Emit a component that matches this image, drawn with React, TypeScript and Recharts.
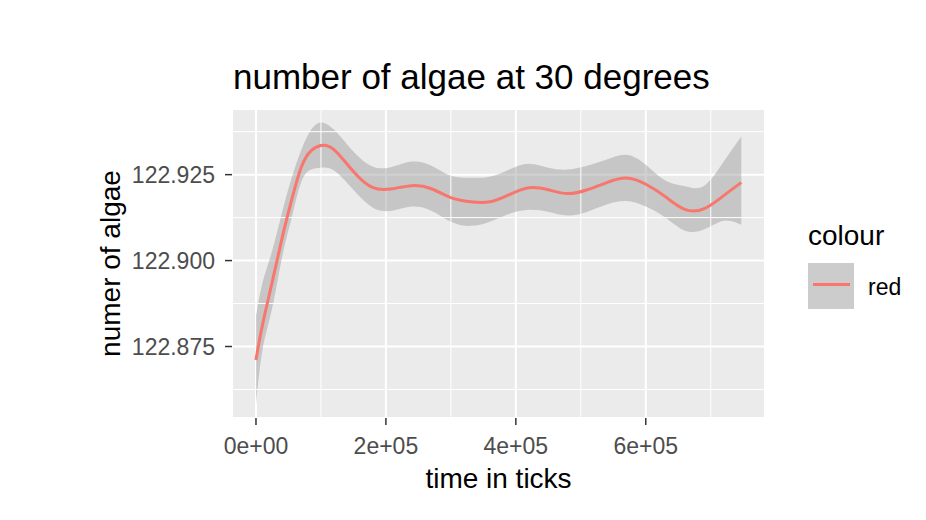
import React from 'react';
import { ComposedChart, Area, Line, XAxis, YAxis, CartesianGrid, ReferenceLine, Label } from 'recharts';

// time in ticks
const times = [
    0, 10000, 25000, 40000, 55000, 70000, 85000, 100000, 120000, 150000,
    180000, 210000, 240000, 270000, 300000, 330000, 360000, 390000, 420000, 450000,
    480000, 510000, 540000, 570000, 600000, 630000, 660000, 690000, 720000, 747000,
];

// smoothed number of algae
const fitted = [
    122.8711, 122.8813, 122.8938, 122.9064, 122.9177, 122.9273, 122.9320, 122.9335, 122.9323, 122.9259,
    122.9212, 122.9209, 122.9218, 122.9209, 122.9183, 122.9171, 122.9171, 122.9192, 122.9212, 122.9206,
    122.9195, 122.9206, 122.9227, 122.9240, 122.9222, 122.9186, 122.9149, 122.9151, 122.9189, 122.9227,
];

// confidence band
const lower = [
    122.8580, 122.8740, 122.8862, 122.9008, 122.9125, 122.9230, 122.9265, 122.9270, 122.9262, 122.9206,
    122.9154, 122.9145, 122.9157, 122.9145, 122.9113, 122.9101, 122.9113, 122.9136, 122.9148, 122.9142,
    122.9131, 122.9142, 122.9163, 122.9173, 122.9157, 122.9125, 122.9087, 122.9091, 122.9116, 122.9104,
];
const upper = [
    122.8839, 122.8935, 122.9029, 122.9139, 122.9241, 122.9323, 122.9381, 122.9402, 122.9381, 122.9317,
    122.9273, 122.9273, 122.9288, 122.9276, 122.9247, 122.9241, 122.9244, 122.9265, 122.9282, 122.9270,
    122.9265, 122.9276, 122.9294, 122.9308, 122.9279, 122.9233, 122.9216, 122.9218, 122.9288, 122.9361,
];

const xTicks = [0, 200000, 400000, 600000];
const xMinor = [100000, 300000, 500000, 700000];
const yTicks = [122.875, 122.9, 122.925];
const yMinor = [122.8625, 122.8875, 122.9125, 122.9375];

const LINE_COLOR = '#F8766D';
const FONT = '"Liberation Sans", Arial, sans-serif';

const data = times.map((t, i) => ({ t, fit: fitted[i], band: [lower[i], upper[i]] }));

const sci = (v: number) => {
    if (v === 0) return '0e+00';
    const [m, e] = v.toExponential().split('e');
    const n = Number(e);
    return `${m}e${n < 0 ? '-' : '+'}${String(Math.abs(n)).padStart(2, '0')}`;
};

const YTitle = (props: any) => {
    const vb = props.viewBox;
    const x = vb.x + 120;
    const y = vb.y + vb.height / 2;
    return (
        <text x={x} y={y} transform={`rotate(-90, ${x}, ${y})`} textAnchor="middle" fontSize={28} fill="#000000">
            numer of algae
        </text>
    );
};

const XTitle = (props: any) => {
    const vb = props.viewBox;
    const x = vb.x + vb.width / 2;
    return (
        <text x={x} y={488} textAnchor="middle" fontSize={28} fill="#000000">
            time in ticks
        </text>
    );
};

const App: React.FC = () => {
    return (
        <div style={{ position: 'absolute', left: 0, top: 0, width: 926, height: 520, background: '#ffffff', fontFamily: FONT }}>
            <div style={{ position: 'absolute', left: 233, top: 59, fontSize: 35, lineHeight: '35px', color: '#000000', whiteSpace: 'nowrap' }}>
                number of algae at 30 degrees
            </div>

            <ComposedChart
                width={926}
                height={520}
                data={data}
                margin={{ top: 109, right: 161, bottom: 72, left: 0 }}
                style={{ fontFamily: FONT }}
            >
                <CartesianGrid fill="#EBEBEB" stroke="#FFFFFF" strokeWidth={2} />
                {xMinor.map(v => (
                    <ReferenceLine key={`vx${v}`} x={v} stroke="#FFFFFF" strokeWidth={1} />
                ))}
                {yMinor.map(v => (
                    <ReferenceLine key={`hy${v}`} y={v} stroke="#FFFFFF" strokeWidth={1} />
                ))}
                <XAxis
                    dataKey="t"
                    type="number"
                    domain={[-36900, 783500]}
                    ticks={xTicks}
                    tickFormatter={sci}
                    allowDataOverflow
                    height={30}
                    axisLine={false}
                    tickSize={7}
                    tickMargin={13}
                    tickLine={{ stroke: '#333333', strokeWidth: 1.5 }}
                    tick={{ fill: '#4D4D4D', fontSize: 23 }}
                >
                    <Label content={XTitle} />
                </XAxis>
                <YAxis
                    type="number"
                    domain={[122.8542, 122.9441]}
                    ticks={yTicks}
                    tickFormatter={(v: number) => v.toFixed(3)}
                    allowDataOverflow
                    width={232}
                    axisLine={false}
                    tickSize={7}
                    tickMargin={10}
                    tickLine={{ stroke: '#333333', strokeWidth: 1.5 }}
                    tick={{ fill: '#4D4D4D', fontSize: 23 }}
                >
                    <Label content={YTitle} />
                </YAxis>
                <Area
                    dataKey="band"
                    type="natural"
                    fill="#999999"
                    fillOpacity={0.45}
                    stroke="none"
                    isAnimationActive={false}
                />
                <Line
                    dataKey="fit"
                    type="natural"
                    stroke={LINE_COLOR}
                    strokeWidth={3}
                    dot={false}
                    isAnimationActive={false}
                />
            </ComposedChart>

            <div style={{ position: 'absolute', left: 808, top: 222, fontSize: 28, lineHeight: '28px', color: '#000000' }}>colour</div>
            <div style={{ position: 'absolute', left: 808, top: 263, width: 46, height: 46, background: '#CCCCCC' }}>
                <div style={{ position: 'absolute', left: 5, top: 20, width: 37, height: 3, background: LINE_COLOR }} />
            </div>
            <div style={{ position: 'absolute', left: 868, top: 276, fontSize: 23, lineHeight: '23px', color: '#000000' }}>red</div>
        </div>
    );
};

export default App;
